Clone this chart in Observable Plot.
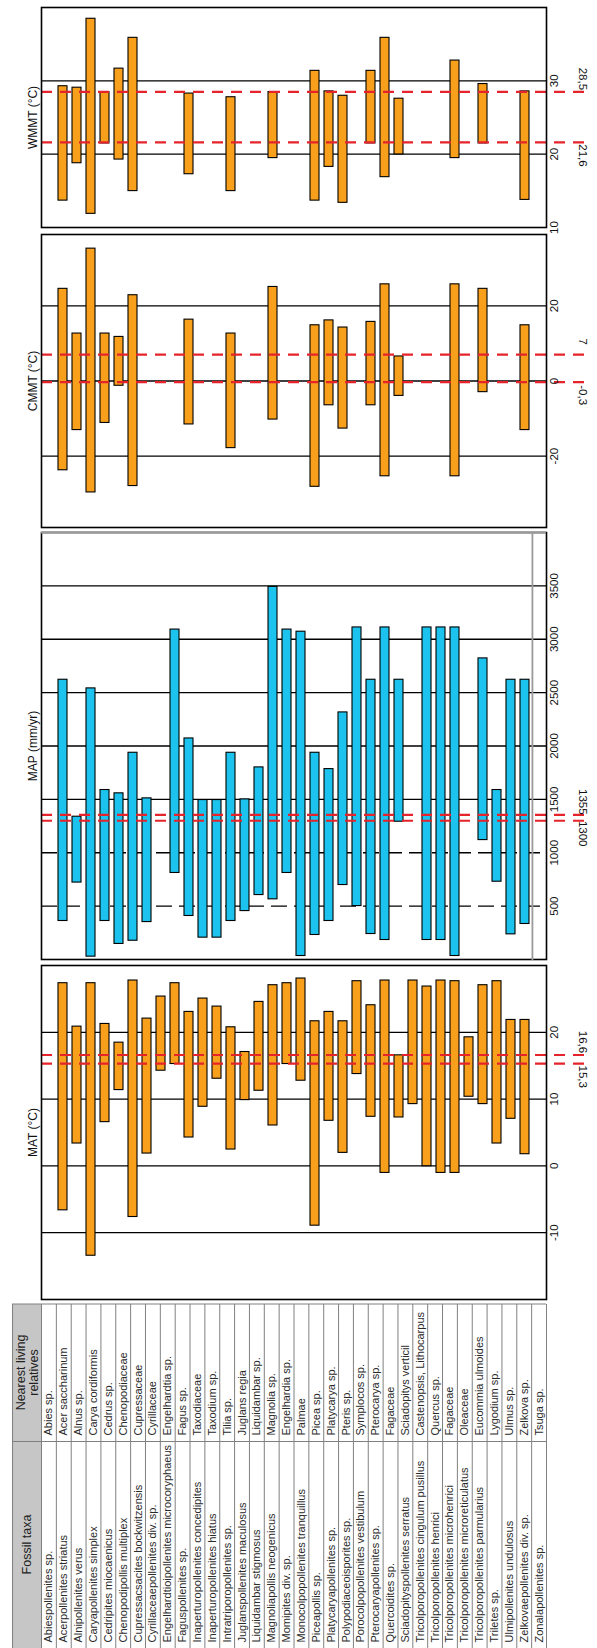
<!DOCTYPE html>
<html>
<head>
<meta charset="utf-8">
<script src="https://cdn.jsdelivr.net/npm/d3@7"></script>
<script src="https://cdn.jsdelivr.net/npm/@observablehq/plot@0.6"></script>
<style>
  html, body { margin: 0; padding: 0; overflow: hidden; background: #fff; width: 597px; height: 1648px; }
  #stage { position: absolute; left: 0; top: 0; width: 1648px; height: 597px;
           transform-origin: 0 0; transform: translate(0px, 1648px) rotate(-90deg); }
</style>
</head>
<body>
<div id="stage"></div>
<script>
// ---------------- data ----------------
const taxa = [
  "Abiespollenites sp.", "Acerpollenites striatus", "Alnipollenites verus", "Caryapollenites simplex",
  "Cedripites miocaenicus", "Chenopodipollis multiplex", "Cupressacsacites bockwitzensis",
  "Cyrillaceaepollenites div. sp.", "Engelhardtioipollenites microcoryphaeus", "Faguspollenites sp.",
  "Inaperturopollenites concedipites", "Inaperturopollenites hiatus", "Intratriporopollenites sp.",
  "Juglanspollenites maculosus", "Liquidambar stigmosus", "Magnoliapollis neogenicus", "Momipites div. sp.",
  "Monocolpopollenites tranquillus", "Piceapollis sp.", "Platycaryapollenites sp.", "Polypodiaceoisporites sp.",
  "Porocolpopollenites vestibulum", "Pterocaryapollenites sp.", "Quercoidites sp.",
  "Sciadopityspollenites serratus", "Tricolporopollenites cingulum pusillus", "Tricolporopollenites henrici",
  "Tricolporopollenites microhenrici", "Tricolporopollenites microreticulatus", "Tricolporopollenites parmularius",
  "Triletes sp.", "Ulmipollenites undulosus", "Zelkovaepollenites div. sp.", "Zonalapollenites sp."
];
const relatives = [
  "Abies sp.", "Acer saccharinum", "Alnus sp.", "Carya cordiformis", "Cedrus sp.", "Chenopodiaceae",
  "Cupressaceae", "Cyrillaceae", "Engelhardtia sp.", "Fagus sp.", "Taxodiaceae", "Taxodium sp.", "Tilia sp.",
  "Juglans regia", "Liquidambar sp.", "Magnolia sp.", "Engelhardia sp.", "Palmae", "Picea sp.", "Platycarya sp.",
  "Pteris sp.", "Symplocos sp.", "Pterocarya sp.", "Fagaceae", "Sciadopitys verticil", "Castenopsis, Lithocarpus",
  "Quercus sp.", "Fagaceae", "Oleaceae", "Eucommia ulmoides", "Lygodium sp.", "Ulmus sp.", "Zelkova sp.", "Tsuga sp."
];

const matMin = [-6.5, 3.5, -13.3, 6.7, 11.5, -7.5, 2.0, 14.4, 15.4, 4.4, 9.0, 13.2, 2.6, 10.0, 11.4, 6.2, 15.4,
  12.9, -8.8, 6.9, 2.1, 13.9, 7.5, -0.9, 7.4, 9.4, 0.1, -0.9, -0.9, 10.5, 9.4, 3.5, 7.2, 1.9];
const matMax = [27.5, 21.0, 27.5, 21.4, 18.6, 27.9, 22.2, 25.5, 27.5, 23.2, 25.2, 24.0, 20.9, 17.2, 24.7, 27.2, 27.5,
  28.2, 21.8, 23.2, 21.8, 27.8, 24.2, 27.9, 16.7, 27.9, 27.0, 27.9, 27.8, 19.4, 27.2, 27.8, 22.0, 22.0];

const mapMin = [370, 730, 36, 370, 155, 185, 360, null, 820, 417, 214, 214, 370, 463, 613, 573, 820,
  42, 239, 370, 707, 510, 248, 192, 1300, null, 192, 192, 42, null, 1128, 738, 245, 342];
const mapMax = [2630, 1347, 2549, 1597, 1566, 1946, 1519, null, 3100, 2080, 1503, 1503, 1946, 1509, 1809, 3500, 3100,
  3080, 1946, 1793, 2324, 3120, 2630, 3120, 2630, null, 3120, 3120, 3120, null, 2830, 1597, 2630, 2630];

const cmmtMin = [-23.5, -12.8, -29.4, -10.9, -1.0, -27.7, null, null, null, -11.3, null, null, -17.6, null, null, -10.0, null,
  null, -27.9, -6.2, -12.4, null, -6.2, -25.1, -3.7, null, null, null, -25.1, null, -2.7, null, null, -12.8];
const cmmtMax = [24.8, 12.9, 35.5, 12.9, 12.0, 23.1, null, null, null, 16.6, null, null, 12.9, null, null, 25.3, null,
  null, 15.1, 16.4, 14.5, null, 16.0, 26.0, 6.8, null, null, null, 26.0, null, 24.8, null, null, 15.1];

const wmmtMin = [13.8, 18.9, 12.0, 21.6, 19.4, 15.1, null, null, null, 17.4, null, null, 15.1, null, null, 19.6, null,
  null, 13.8, 18.4, 13.5, null, 21.6, 17.0, 20.1, null, null, null, 19.6, null, 21.6, null, null, 13.9];
const wmmtMax = [29.4, 29.2, 38.6, 28.6, 31.8, 36.0, null, null, null, 28.4, null, null, 27.9, null, null, 28.6, null,
  null, 31.5, 28.7, 28.1, null, 31.5, 36.0, 27.7, null, null, null, 32.9, null, 29.7, null, null, 28.7];

const matTicks = [-10, 0, 10, 20];
const mapTicks = [500, 1000, 1500, 2000, 2500, 3000, 3500];
const cmmtTicks = [-20, 0, 20];
const wmmtTicks = [10, 20, 30];

const matRefs = [15.3, 16.6],   matRefLabels = ["15,3", "16,6"];
const mapRefs = [1300, 1355],   mapRefLabels = ["1300", "1355"];
const cmmtRefs = [-0.3, 7],     cmmtRefLabels = ["-0,3", "7"];
const wmmtRefs = [21.6, 28.5],  wmmtRefLabels = ["21,6", "28,5"];

// ---------------- layout / style ----------------
const FONT = '"Liberation Sans", Arial, Helvetica, sans-serif';
const H = 597, TOP = 41, BOTTOM = 51;
const ORANGE = "#F8A01C", BLUE = "#1CC3EE", RED = "#E5232B";
const stage = document.getElementById("stage");
const step = (H - TOP - BOTTOM) / taxa.length;

function place(svg, left) {
  svg.style.position = "absolute";
  svg.style.left = left + "px";
  svg.style.top = "0px";
  stage.appendChild(svg);
}

function panel({u0, u1, domain, lo, hi, color, grid, dashed = [], ticks, refs, refLabels, title, grayEdges = false}) {
  const rows = taxa.map((t, i) => ({taxon: t, lo: lo[i], hi: hi[i]})).filter(d => d.lo != null && d.hi != null);
  const refRows = refs.map((v, i) => ({v, label: refLabels[i]}));
  const marks = [
    Plot.ruleX(grid, {stroke: "#000", strokeWidth: 1.3}),
    Plot.ruleX(dashed, {stroke: "#000", strokeWidth: 1.3, strokeDasharray: "16,7"}),
    Plot.barX(rows, {x1: "lo", x2: "hi", y: "taxon", fill: color, stroke: "#000", strokeWidth: 1.1}),
    Plot.ruleX(refs, {stroke: RED, strokeWidth: 2.2, strokeDasharray: "11,8", insetBottom: -41}),
    Plot.frame({stroke: "#000", strokeWidth: 1.6})
  ];
  if (grayEdges) {
    marks.push(Plot.ruleX([domain[1]], {stroke: "#9a9a9a", strokeWidth: 1.8}));
    marks.push(Plot.ruleY([taxa[taxa.length - 1]], {stroke: "#9a9a9a", strokeWidth: 1.8, dy: step / 2}));
  }
  marks.push(
    Plot.text(ticks, {x: d => d, text: d => String(d), frameAnchor: "bottom", dy: 11, fontSize: 11.5, fill: "#111"}),
    Plot.text([refRows[1]], {x: "v", text: "label", frameAnchor: "bottom", dy: 32, dx: 13, rotate: 180, fontSize: 11.5, fill: "#111"}),
    Plot.text([refRows[0]], {x: "v", text: "label", frameAnchor: "bottom", dy: 32, dx: -13, rotate: 180, fontSize: 11.5, fill: "#111"}),
    Plot.text([title], {frameAnchor: "top", dy: -13, fontSize: 12, fill: "#111"})
  );
  const svg = Plot.plot({
    width: u1 - u0, height: H,
    marginLeft: 0, marginRight: 0, marginTop: TOP, marginBottom: BOTTOM,
    style: {background: "transparent", overflow: "visible", fontFamily: FONT},
    x: {domain, axis: null},
    y: {domain: taxa, axis: null, paddingInner: 0.38, paddingOuter: 0.19},
    marks
  });
  place(svg, u0);
}

// ---------------- table ----------------
(function table() {
  const W = 344, colSplit = 206, headTop = -1.95; // header height in row units
  const rows = taxa.map((t, i) => ({i: i + 0.5, taxon: t, rel: relatives[i]}));
  const svg = Plot.plot({
    width: W, height: H,
    marginLeft: 0, marginRight: 0, marginTop: TOP, marginBottom: BOTTOM,
    style: {background: "transparent", overflow: "visible", fontFamily: FONT},
    x: {domain: [0, W], axis: null},
    y: {domain: [0, taxa.length], reverse: true, axis: null},
    marks: [
      Plot.rect([0], {x1: 0, x2: W, y1: headTop, y2: 0, fill: "#c6c6c6"}),
      Plot.ruleY(d3.range(0, taxa.length + 1), {x1: 0, x2: W, stroke: "#808080", strokeWidth: 1}),
      Plot.ruleY([headTop], {x1: 0, x2: W, stroke: "#808080", strokeWidth: 1}),
      Plot.ruleX([colSplit], {y1: headTop, y2: taxa.length, stroke: "#808080", strokeWidth: 1}),
      Plot.ruleX([W - 0.5], {y1: headTop, y2: taxa.length, stroke: "#808080", strokeWidth: 1}),
      Plot.text(rows, {x: 5, y: "i", text: "taxon", textAnchor: "start", fontSize: 11, fill: "#2a2a2a"}),
      Plot.text(rows, {x: colSplit + 6, y: "i", text: "rel", textAnchor: "start", fontSize: 11, fill: "#2a2a2a"}),
      Plot.text(["Fossil taxa"], {x: colSplit / 2, y: headTop / 2, fontSize: 12.5, fill: "#222"}),
      Plot.text(["Nearest living\nrelatives"], {x: (colSplit + W) / 2, y: headTop / 2, fontSize: 12.5, lineHeight: 1.1, fill: "#222"})
    ]
  });
  place(svg, 0);
})();

// ---------------- panels ----------------
panel({u0: 348, u1: 682, domain: [-20, 30], lo: matMin, hi: matMax, color: ORANGE,
       grid: [-10, 0, 10, 20], ticks: matTicks, refs: matRefs, refLabels: matRefLabels, title: "MAT (°C)"});
panel({u0: 688, u1: 1115, domain: [0, 4000], lo: mapMin, hi: mapMax, color: BLUE,
       grid: [1500, 2000, 2500, 3000, 3500], dashed: [500, 1000], ticks: mapTicks,
       refs: mapRefs, refLabels: mapRefLabels, title: "MAP (mm/yr)", grayEdges: true});
panel({u0: 1120, u1: 1413, domain: [-39, 39], lo: cmmtMin, hi: cmmtMax, color: ORANGE,
       grid: [-20, 0, 20], ticks: cmmtTicks, refs: cmmtRefs, refLabels: cmmtRefLabels, title: "CMMT (°C)"});
panel({u0: 1420, u1: 1640, domain: [10, 40], lo: wmmtMin, hi: wmmtMax, color: ORANGE,
       grid: [20, 30], ticks: wmmtTicks, refs: wmmtRefs, refLabels: wmmtRefLabels, title: "WMMT (°C)"});
</script>
</body>
</html>
